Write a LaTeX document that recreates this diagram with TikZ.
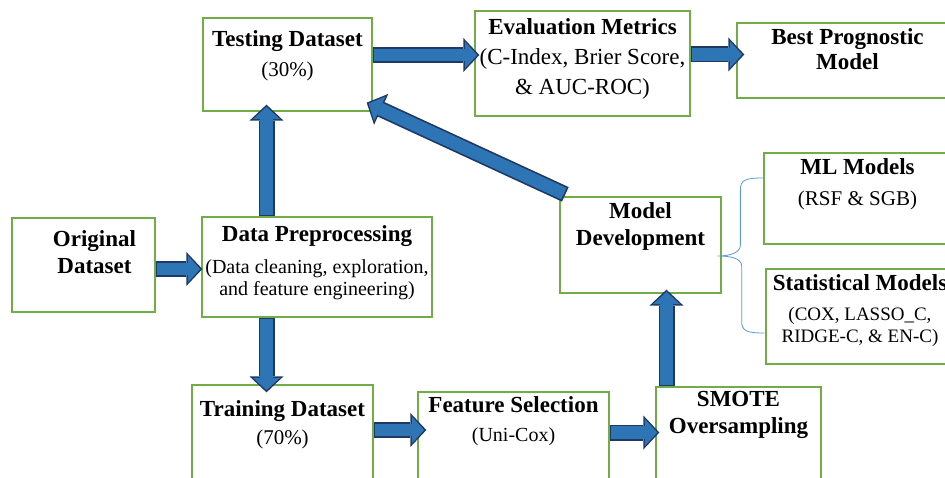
\documentclass[tikz,border=0pt]{standalone}
\usepackage{fontspec}
\setmainfont{Liberation Serif}
\usetikzlibrary{arrows.meta,calc}
\definecolor{boxgreen}{RGB}{112,173,71}
\definecolor{arrblue}{RGB}{46,117,182}
\definecolor{arrdark}{RGB}{32,56,100}
\definecolor{bracecol}{RGB}{91,155,213}
\newcommand\boxhead[1]{{\fontsize{23}{28}\selectfont\bfseries #1}}
\newcommand\subtxt[2][21]{{\fontsize{#1}{28}\selectfont #2}}
\tikzset{
  box/.style={draw=boxgreen, line width=1.3pt, inner sep=0pt},
  txt/.style={anchor=north, align=center, inner sep=0pt, font=\fontsize{21}{28}\selectfont},
  flow/.style={draw=arrdark, line width=16pt,
    -{Triangle[length=16pt,width=34pt,line width=0pt]},
    postaction={draw=arrblue, line width=12.6pt, shorten <=1.7pt, shorten >=2.2pt,
      -{Triangle[length=12.3pt,width=27pt,line width=0pt]}}},
  brace/.style={draw=bracecol, line width=0.8pt}
}
\begin{document}
\begin{tikzpicture}[x=1pt,y=-1pt]
\useasboundingbox (0,0) rectangle (945,478);
\fill[white] (0,0) rectangle (945,478);
\clip (0,0) rectangle (945,478);
% boxes
\node[box, minimum width=143pt, minimum height=94pt,
  label={[txt, xshift=11pt, yshift=-13pt]north:{\boxhead{Original}\\[-1pt]\boxhead{Dataset}}}] (orig) at (83.5,265) {};
\node[box, minimum width=230pt, minimum height=100pt,
  label={[txt, yshift=-9pt]north:{\boxhead{Data Preprocessing}\\[4pt]\subtxt[20]{(Data cleaning, exploration,}\\[-6pt]\subtxt[20]{and feature engineering)}}}] (prep) at (317,267) {};
\node[box, minimum width=169pt, minimum height=93pt,
  label={[txt, yshift=-13pt]north:{\boxhead{Testing Dataset}\\[2pt]\subtxt{(30\%)}}}] (test) at (287.5,64.5) {};
\node[box, minimum width=181pt, minimum height=115pt,
  label={[txt, yshift=-16pt]north:{\boxhead{Training Dataset}\\\subtxt{(70\%)}}}] (train) at (282.5,442.5) {};
\node[box, minimum width=191pt, minimum height=108pt,
  label={[txt, yshift=-5pt]north:{\boxhead{Feature Selection}\\[1pt]\subtxt[20]{(Uni-Cox)}}}] (feat) at (513.5,446) {};
\node[box, minimum width=165pt, minimum height=113pt,
  label={[txt, yshift=-5pt]north:{\boxhead{SMOTE}\\[-1pt]\boxhead{Oversampling}}}] (smote) at (738.5,443.5) {};
\node[box, minimum width=161pt, minimum height=96pt,
  label={[txt, yshift=-6pt]north:{\boxhead{Model}\\[-1pt]\boxhead{Development}}}] (model) at (640.5,245) {};
\node[box, minimum width=215pt, minimum height=105pt,
  label={[txt, yshift=-8pt]north:{\boxhead{Evaluation Metrics}\\[2pt]\subtxt[23]{(C-Index, Brier Score,}\\[2pt]\subtxt[23]{\& AUC-ROC)}}}] (eval) at (582.5,63.5) {};
\node[box, minimum width=221pt, minimum height=75pt,
  label={[txt, yshift=-6pt]north:{\boxhead{Best Prognostic}\\[-3pt]\boxhead{Model}}}] (best) at (847.5,60.5) {};
\node[box, minimum width=187pt, minimum height=91pt,
  label={[txt, yshift=-6pt]north:{\boxhead{ML Models}\\[3pt]\subtxt{(RSF \& SGB)}}}] (ml) at (857.5,198.5) {};
\node[box, minimum width=188pt, minimum height=95pt,
  label={[txt, yshift=-6pt]north:{\boxhead{Statistical Models}\\[2pt]\subtxt[19]{(COX, LASSO\_C,}\\[-6pt]\subtxt[19]{RIDGE-C, \& EN-C)}}}] (stat) at (860,316.5) {};
% block arrows
\draw[flow] ($(orig.east)+(0,4)$) -- ($(orig.east -| prep.west)+(1,4)$);
\draw[flow] ($(prep.north)+(-50.5,0)$) -- ($(test.south -| prep.north)+(-50.5,-7)$);
\draw[flow] ($(prep.south)+(-50.5,0)$) -- ($(train.north -| prep.south)+(-50.5,8)$);
\draw[flow] ($(test.east)+(0,-9.5)$) -- ($(test.east -| eval.west)+(5,-9.5)$);
\draw[flow] ($(eval.east)+(0,-9)$) -- ($(eval.east -| best.west)+(8,-9)$);
\draw[flow] ($(train.east)+(0,-12.5)$) -- ($(train.east -| feat.west)+(9,-12.5)$);
\draw[flow] ($(feat.east)+(0,-13.5)$) -- ($(feat.east -| smote.west)+(4,-13.5)$);
\draw[flow] ($(smote.north)+(-72,0)$) -- ($(model.south -| smote.north)+(-72,-4)$);
\draw[flow] ($(model.north west)+(6,-2)$) -- ($(test.south east)+(-6,-9)$);
% brace
\coordinate (bt) at ($(ml.west)+(0,-20.5)$);
\coordinate (bb) at ($(stat.west)+(-1,16.5)$);
\coordinate (bm) at ($(model.east)+(-4,11)$);
\draw[brace] (bt) .. controls +(-18,0) and +(0,-10) .. ++(-23,12) -- ++(0,55)
  .. controls +(0,8) and +(12,0) .. (bm)
  .. controls +(12,0) and +(0,-8) .. ++(24,10) -- ++(0,55)
  .. controls +(0,10) and +(-18,0) .. (bb);
\end{tikzpicture}
\end{document}
